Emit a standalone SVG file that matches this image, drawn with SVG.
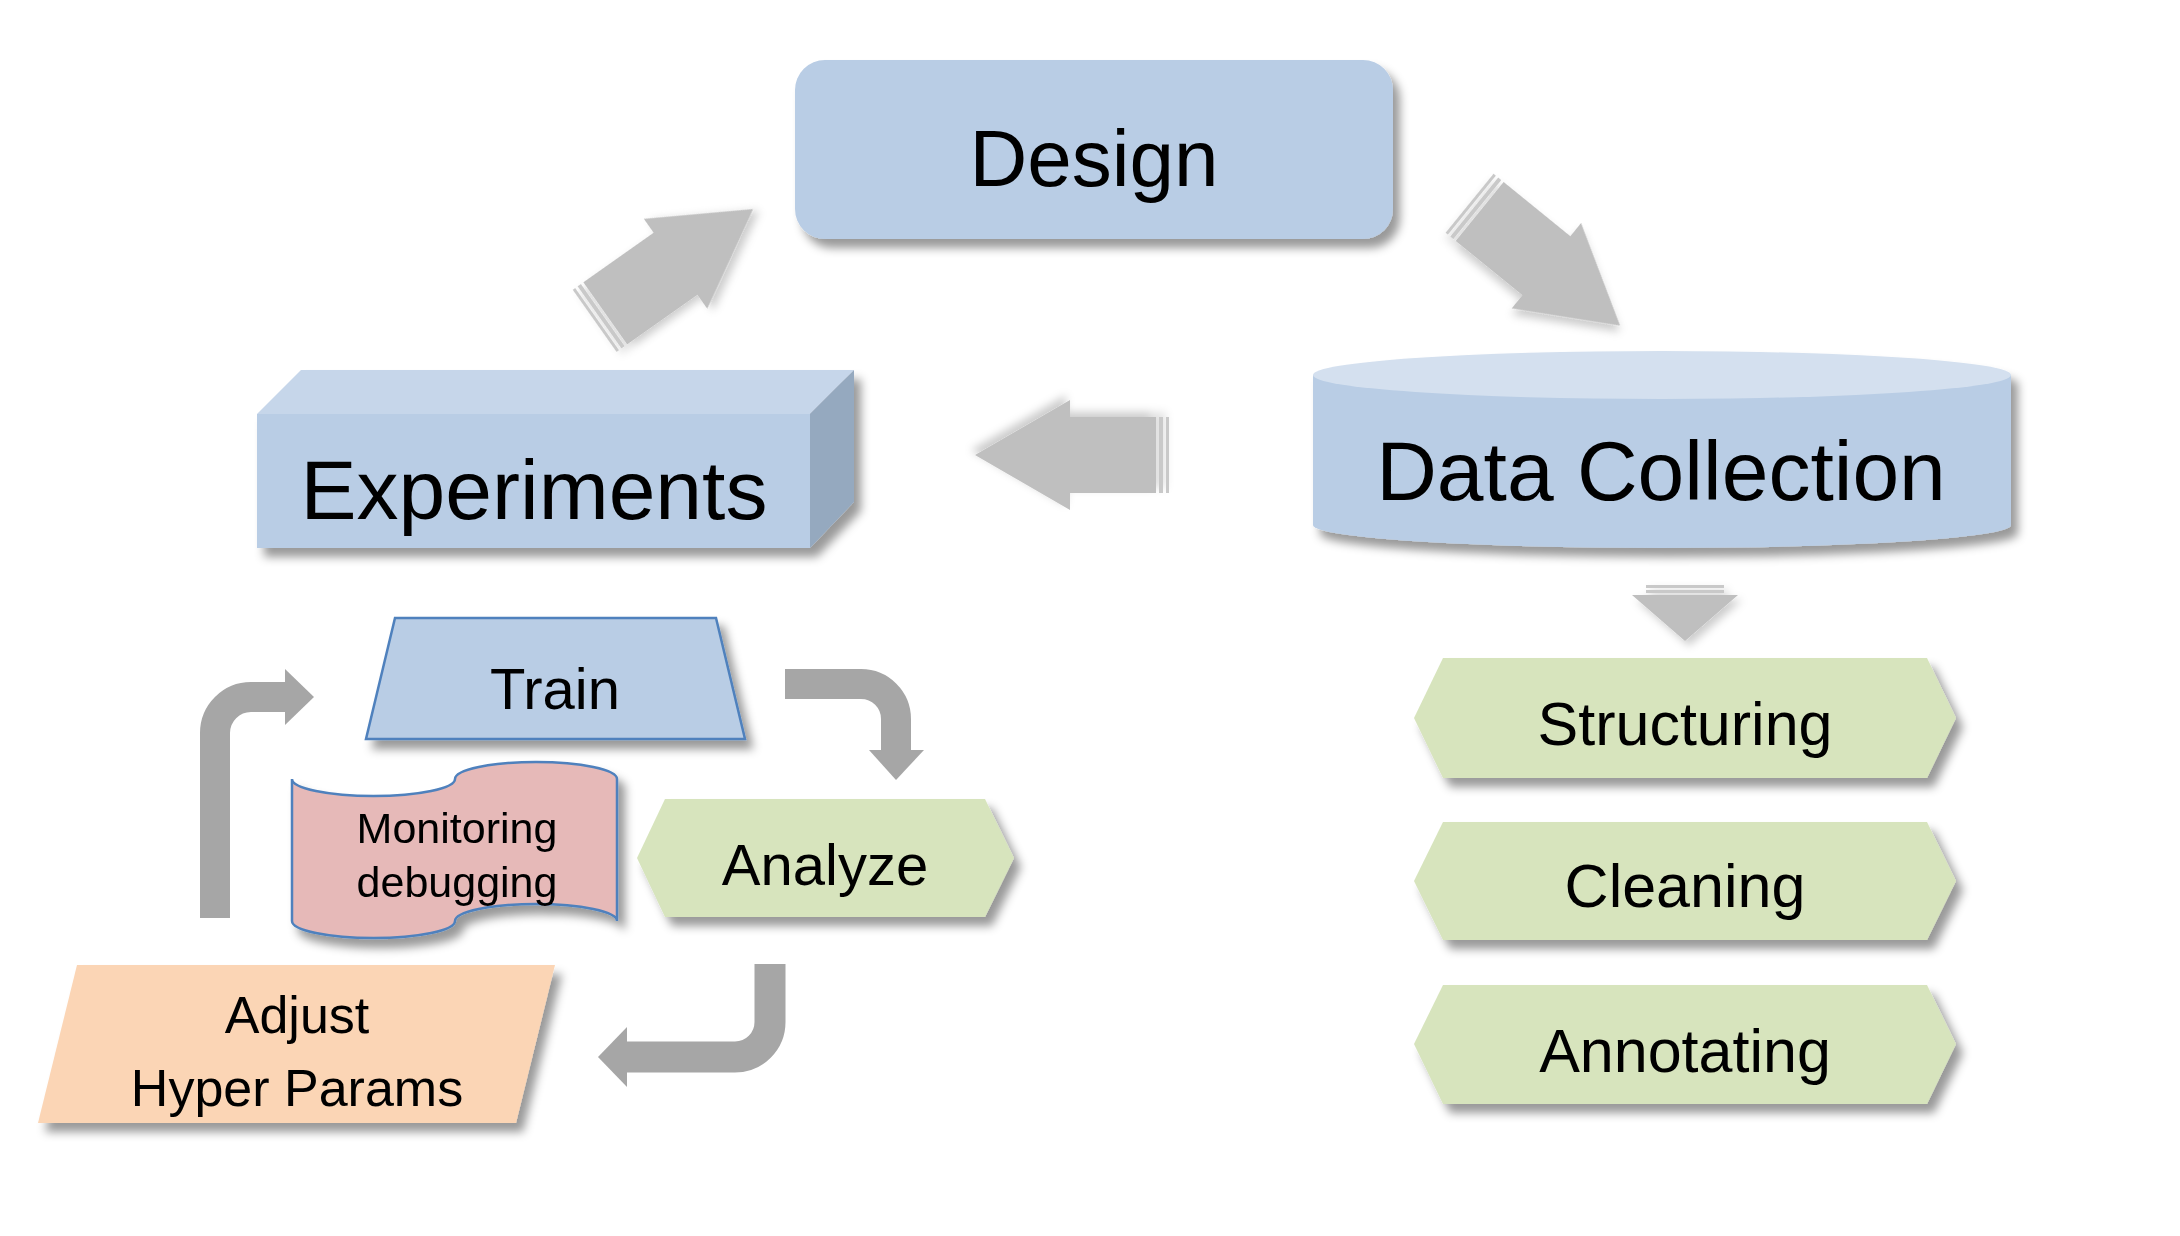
<svg xmlns="http://www.w3.org/2000/svg" width="2180" height="1236" viewBox="0 0 2180 1236">
<defs>
<filter id="sh" x="-10%" y="-20%" width="130%" height="150%">
<feDropShadow dx="7" dy="9" stdDeviation="5" flood-color="#000" flood-opacity="0.4"/>
</filter>
<filter id="shl" x="-20%" y="-20%" width="140%" height="140%">
<feDropShadow dx="4" dy="5" stdDeviation="4" flood-color="#000" flood-opacity="0.2"/>
</filter>
<g id="bigArrow">
<rect x="2" y="-38" width="3" height="76" fill="#C9C9C9"/>
<rect x="8" y="-38" width="4" height="76" fill="#C9C9C9"/>
<polygon points="15,-38 101,-38 101,-55 196,0 101,55 101,38 15,38" fill="#BFBFBF"/>
</g>
<style>
text{font-family:"Liberation Sans",Arial,sans-serif;fill:#000;text-anchor:middle}
.blue{fill:#B9CDE5}
.green{fill:#D7E4BD}
.bent{fill:none;stroke:#A6A6A6;stroke-width:30}
.head{fill:#A6A6A6}
</style>
</defs>
<rect width="2180" height="1236" fill="#FFFFFF"/>

<g id="connectors">
<use href="#bigArrow" transform="translate(593,322) rotate(-35.2)" filter="url(#shl)"/>
<use href="#bigArrow" transform="translate(1468,202) rotate(39.1)" filter="url(#shl)"/>
<use href="#bigArrow" transform="translate(1171,455) rotate(180)" filter="url(#shl)"/>
<g id="down-arrow" filter="url(#shl)">
<rect x="1646" y="585" width="78" height="3" fill="#C9C9C9"/>
<rect x="1646" y="590" width="78" height="3" fill="#C9C9C9"/>
<polygon points="1632,595 1738,595 1685,641" fill="#BFBFBF"/>
</g>
<path class="bent" d="M215,918 V733 A36,36 0 0 1 251,697 H287"/>
<polygon class="head" points="285,669 314,697 285,725"/>
<path class="bent" d="M785,684 H861 A35,35 0 0 1 896,719 V752"/>
<polygon class="head" points="869,750 924,750 896,780"/>
<path class="bent" d="M770,964 V1022 A35,35 0 0 1 735,1057 H625" style="stroke-width:31"/>
<polygon class="head" points="627,1027 627,1087 598,1057"/>
</g>

<g id="design" filter="url(#sh)">
<rect x="795" y="60" width="598" height="179" rx="30" class="blue"/>
<text x="1094" y="186" font-size="80">Design</text>
</g>

<g id="experiments" filter="url(#sh)">
<polygon points="257,414 301,370 854,370 810,414" fill="#C6D6EA"/>
<polygon points="810,414 854,370 854,502 810,548" fill="#95A9BF"/>
<rect x="257" y="414" width="553" height="134" class="blue"/>
<text x="534" y="519" font-size="84">Experiments</text>
</g>

<g id="data-collection" filter="url(#sh)">
<path d="M1313,375 V525 A349,23 0 0 0 2011,525 V375 Z" class="blue"/>
<ellipse cx="1662" cy="375" rx="349" ry="24" fill="#D4E0EF"/>
<text x="1661" y="500" font-size="84">Data Collection</text>
</g>

<g id="structuring" filter="url(#sh)">
<polygon points="1414,718 1443,658 1927,658 1956,718 1927,778 1443,778" class="green"/>
<text x="1685" y="745" font-size="61">Structuring</text>
</g>
<g id="cleaning" filter="url(#sh)">
<polygon points="1414,881 1443,822 1927,822 1956,881 1927,940 1443,940" class="green"/>
<text x="1685" y="907" font-size="61">Cleaning</text>
</g>
<g id="annotating" filter="url(#sh)">
<polygon points="1414,1044 1443,985 1927,985 1956,1044 1927,1104 1443,1104" class="green"/>
<text x="1685" y="1072" font-size="61">Annotating</text>
</g>

<g id="train" filter="url(#sh)">
<polygon points="395,618 716,618 745,739 366,739" class="blue" stroke="#4F81BD" stroke-width="2.5"/>
<text x="555" y="709" font-size="58">Train</text>
</g>

<g id="monitoring" filter="url(#sh)">
<path d="M292,779 A81.5,17 0 0 0 455,779 A81,17 0 0 1 617,779 V921 A81,17 0 0 0 455,921 A81.5,17 0 0 1 292,921 Z" fill="#E6B9B8" stroke="#4F81BD" stroke-width="2.5"/>
<text x="457" y="843" font-size="43">Monitoring</text>
<text x="457" y="897" font-size="43">debugging</text>
</g>

<g id="analyze" filter="url(#sh)">
<polygon points="637,858 665,799 985,799 1014,858 985,917 665,917" class="green"/>
<text x="825" y="885" font-size="58">Analyze</text>
</g>

<g id="adjust" filter="url(#sh)">
<polygon points="77,965 555,965 516,1123 38,1123" fill="#FBD5B5"/>
<text x="297" y="1033" font-size="52">Adjust</text>
<text x="297" y="1106" font-size="52">Hyper Params</text>
</g>
</svg>
